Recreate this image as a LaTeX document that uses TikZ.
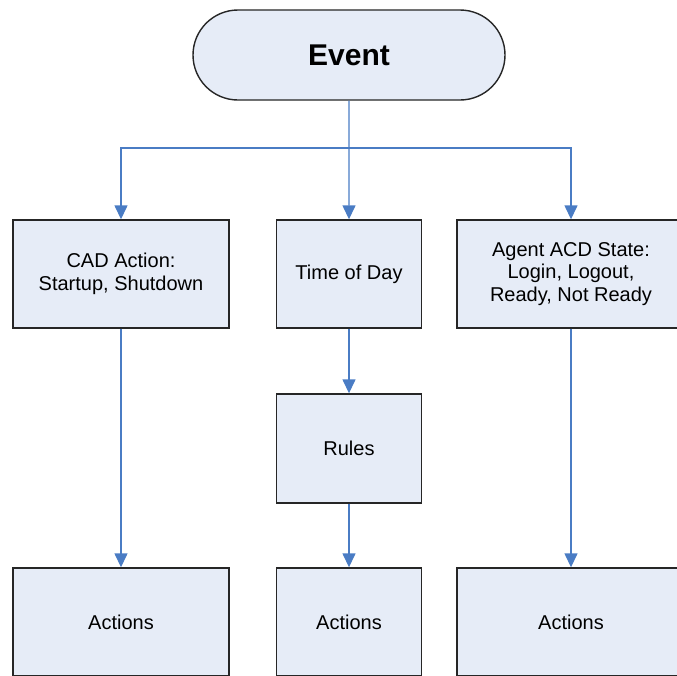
\documentclass[tikz,border=0pt]{standalone}
\usepackage{fontspec}
\setmainfont{Liberation Sans}
\usetikzlibrary{shapes.misc,arrows.meta}

\definecolor{boxfill}{HTML}{E6ECF7}
\definecolor{boxline}{HTML}{262626}
\definecolor{linkblue}{HTML}{4A7CC4}

\begin{document}
\begin{tikzpicture}[
    x=1pt, y=-1pt,
    box/.style={
      draw=boxline, fill=boxfill, line width=1.4pt,
      align=center, inner sep=0pt,
      font=\fontsize{20}{22.5}\selectfont
      },
    start/.style={
      box, rounded rectangle,
      minimum width=312pt, minimum height=90pt,
      font=\fontsize{30}{34}\selectfont\bfseries
      },
    link/.style={draw=linkblue, line width=1.4pt},
    >={Triangle[length=14pt,width=13pt]}
    ]
    \useasboundingbox (0,0) rectangle (677,675);
    \clip (0,0) rectangle (677,675);

    % Event and first level
    \node[start] (event) at (349,55) {Event};
    \coordinate (bus) at (349,148);

    \node[box, minimum width=216pt, minimum height=108pt] (cad) at (121,274)
        {CAD Action:\\Startup, Shutdown};
    \node[box, minimum width=145pt, minimum height=108pt] (tod) at (349,274)
        {Time of Day};
    \node[box, minimum width=228pt, minimum height=108pt] (acd) at (571,274)
        {Agent ACD State:\\Login, Logout,\\Ready, Not Ready};

    \node[box, minimum width=145pt, minimum height=109pt] (rules) at (349,448.5)
        {Rules};

    % Actions
    \node[box, minimum width=216pt, minimum height=108pt] (act1) at (121,622) {Actions};
    \node[box, minimum width=145pt, minimum height=108pt] (act2) at (349,622) {Actions};
    \node[box, minimum width=228pt, minimum height=108pt] (act3) at (571,622) {Actions};

    % Links
    \draw[link,->] (event) -- (tod);
    \foreach \n in {cad,acd}
        \draw[link,->] (bus) -| (\n);

    \draw[link,->] (cad) -- (act1);
    \draw[link,->] (tod) -- (rules);
    \draw[link,->] (rules) -- (act2);
    \draw[link,->] (acd) -- (act3);
\end{tikzpicture}
\end{document}
